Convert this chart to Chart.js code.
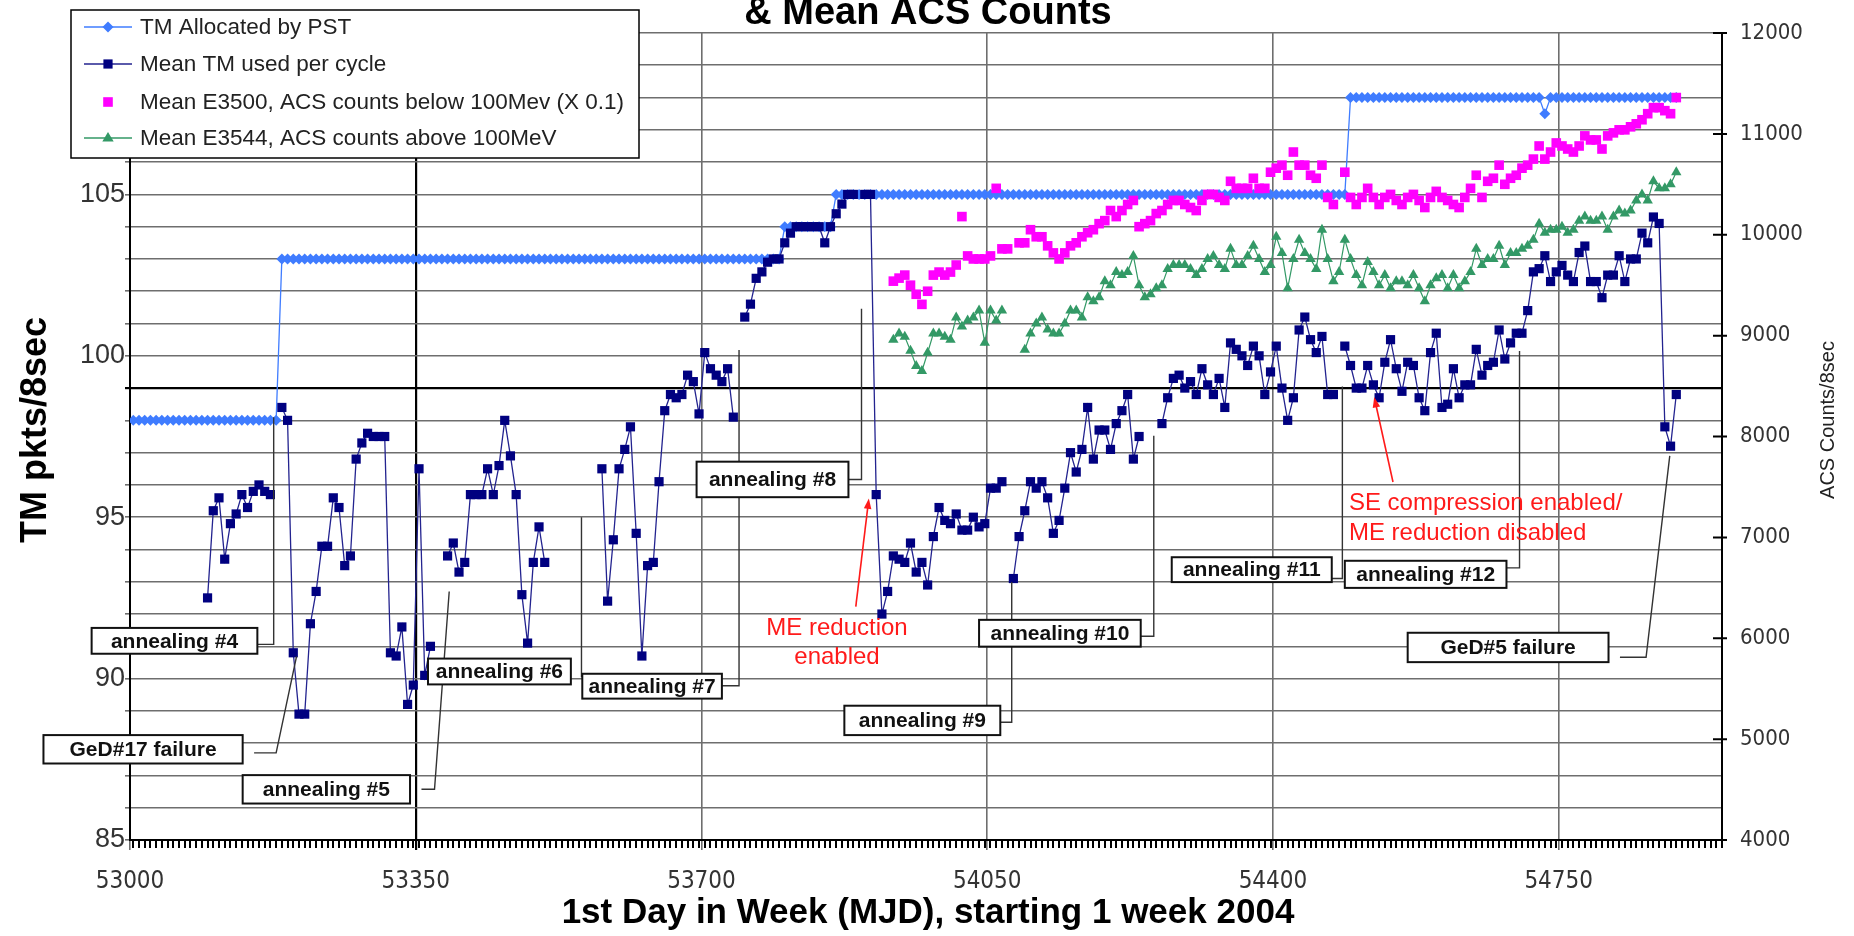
<!DOCTYPE html>
<html>
<head>
<meta charset="utf-8">
<title>TM usage and ACS counts</title>
<script src="https://cdn.jsdelivr.net/npm/chart.js@4.4.1/dist/chart.umd.min.js"></script>
<style>
  html, body { margin: 0; padding: 0; background: #fff; }
  #wrap { width: 1854px; height: 936px; }
</style>
</head>
<body>
<div id="wrap"><canvas id="tmChart" width="1854" height="936"></canvas></div>
<script>
// Weekly categories: first day of each week (MJD)
var weekStart = 53004;
var weekStep = 7;
var weekCount = 271;

var xTickValues = [53000, 53350, 53700, 54050, 54400, 54750];
var xTickLabels = ["53000", "53350", "53700", "54050", "54400", "54750"];
var leftTickLabels = ["85", "90", "95", "100", "105", "110"];
var rightTickLabels = ["4000", "5000", "6000", "7000", "8000", "9000", "10000", "11000", "12000"];

// TM allocated by PST (pkts/8sec), one value per week
var tmAllocated = [
  98, 98, 98, 98, 98, 98, 98, 98, 98, 98,
  98, 98, 98, 98, 98, 98, 98, 98, 98, 98,
  98, 98, 98, 98, 98, 98, 103, 103, 103, 103,
  103, 103, 103, 103, 103, 103, 103, 103, 103, 103,
  103, 103, 103, 103, 103, 103, 103, 103, 103, 103,
  103, 103, 103, 103, 103, 103, 103, 103, 103, 103,
  103, 103, 103, 103, 103, 103, 103, 103, 103, 103,
  103, 103, 103, 103, 103, 103, 103, 103, 103, 103,
  103, 103, 103, 103, 103, 103, 103, 103, 103, 103,
  103, 103, 103, 103, 103, 103, 103, 103, 103, 103,
  103, 103, 103, 103, 103, 103, 103, 103, 103, 103,
  103, 103, 103, 103, 104, 104, 104, 104, 104, 104,
  104, 104, 104, 105, 105, 105, 105, 105, 105, 105,
  105, 105, 105, 105, 105, 105, 105, 105, 105, 105,
  105, 105, 105, 105, 105, 105, 105, 105, 105, 105,
  105, 105, 105, 105, 105, 105, 105, 105, 105, 105,
  105, 105, 105, 105, 105, 105, 105, 105, 105, 105,
  105, 105, 105, 105, 105, 105, 105, 105, 105, 105,
  105, 105, 105, 105, 105, 105, 105, 105, 105, 105,
  105, 105, 105, 105, 105, 105, 105, 105, 105, 105,
  105, 105, 105, 105, 105, 105, 105, 105, 105, 105,
  105, 105, 105, 108, 108, 108, 108, 108, 108, 108,
  108, 108, 108, 108, 108, 108, 108, 108, 108, 108,
  108, 108, 108, 108, 108, 108, 108, 108, 108, 108,
  108, 108, 108, 108, 108, 108, 108, 107.5, 108, 108,
  108, 108, 108, 108, 108, 108, 108, 108, 108, 108,
  108, 108, 108, 108, 108, 108, 108, 108, 108, 108,
  108
];

// Mean TM used per cycle (pkts/8sec), null = no data that week
var tmUsed = [
  null, null, null, null, null, null, null, null, null, null,
  null, null, null, 92.5, 95.2, 95.6, 93.7, 94.8, 95.1, 95.7,
  95.3, 95.8, 96.0, 95.8, 95.7, null, 98.4, 98.0, 90.8, 88.9,
  88.9, 91.7, 92.7, 94.1, 94.1, 95.6, 95.3, 93.5, 93.8, 96.8,
  97.3, 97.6, 97.5, 97.5, 97.5, 90.8, 90.7, 91.6, 89.2, 89.8,
  96.5, 90.1, 91.0, null, null, 93.8, 94.2, 93.3, 93.6, 95.7,
  95.7, 95.7, 96.5, 95.7, 96.6, 98.0, 96.9, 95.7, 92.6, 91.1,
  93.6, 94.7, 93.6, null, null, null, null, null, null, null,
  null, null, 96.5, 92.4, 94.3, 96.5, 97.1, 97.8, 94.5, 90.7,
  93.5, 93.6, 96.1, 98.3, 98.8, 98.7, 98.8, 99.4, 99.2, 98.2,
  100.1, 99.6, 99.4, 99.2, 99.6, 98.1, null, 101.2, 101.6, 102.4,
  102.6, 102.9, 103.0, 103.0, 103.5, 103.8, 104.0, 104.0, 104.0, 104.0,
  104.0, 103.5, 104.0, 104.4, 104.7, 105.0, 105.0, null, 105.0, 105.0,
  95.7, 92.0, 92.7, 93.8, 93.7, 93.6, 94.2, 93.3, 93.6, 92.9,
  94.4, 95.3, 94.9, 94.8, 95.1, 94.6, 94.6, 95.0, 94.7, 94.8,
  95.9, 95.9, 96.1, null, 93.1, 94.4, 95.2, 96.1, 95.9, 96.1,
  95.6, 94.5, 94.9, 95.9, 97.0, 96.4, 97.1, 98.4, 96.8, 97.7,
  97.7, 97.1, 97.9, 98.3, 98.8, 96.8, 97.5, null, null, null,
  97.9, 98.7, 99.3, 99.4, 99.0, 99.2, 98.8, 99.6, 99.1, 98.8,
  99.3, 98.4, 100.4, 100.2, 100.0, 99.7, 100.3, 100.0, 98.8, 99.5,
  100.3, 99.0, 98.0, 98.7, 100.8, 101.2, 100.5, 100.1, 100.6, 98.8,
  98.8, null, 100.3, 99.7, 99.0, 99.0, 99.7, 99.1, 98.7, 99.8,
  100.5, 99.6, 98.9, 99.8, 99.7, 98.7, 98.3, 100.1, 100.7, 98.4,
  98.5, 99.6, 98.7, 99.1, 99.1, 100.2, 99.4, 99.7, 99.8, 100.8,
  99.9, 100.4, 100.7, 100.7, 101.4, 102.6, 102.7, 103.1, 102.3, 102.6,
  102.8, 102.5, 102.3, 103.2, 103.4, 102.3, 102.3, 101.8, 102.5, 102.5,
  103.1, 102.3, 103.0, 103.0, 103.8, 103.5, 104.3, 104.1, 97.8, 97.2,
  98.8
];

// ACS counts start at week index 133
var acsStartIndex = 133;

// Mean E3500, ACS counts below 100 MeV (x 0.1)
var acsBelow = [
  9540, 9570, 9600, 9500, 9410, 9310, 9440,
  9600, 9630, 9600, 9630, 9700, 10180, 9790, 9760, 9760, 9760,
  9790, 10460, 9860, 9860, null, 9920, 9920, 10050, 9980, 9980,
  9890, 9820, 9760, 9820, 9890, 9920, 9980, 10020, 10050, 10110,
  10140, 10240, 10180, 10240, 10300, 10340, 10080, 10110, 10140, 10210,
  10240, 10300, 10340, 10340, 10300, 10270, 10240, 10340, 10400, 10400,
  10370, 10340, 10530, 10460, 10460, 10460, 10560, 10460, 10460, 10620,
  10660, 10690, 10590, 10820, 10690, 10690, 10590, 10560, 10690, 10370,
  10300, null, 10620, 10370, 10300, 10370, 10460, 10370, 10300, 10370,
  10400, 10340, 10300, 10370, 10400, 10340, 10270, 10370, 10430, 10370,
  10340, 10300, 10270, 10370, 10460, 10590, 10370, 10530, 10560, 10690,
  10500, 10560, 10590, 10660, 10690, 10750, 10880, 10750, 10820, 10910,
  10880, 10850, 10820, 10880, 10980, 10940, 10940, 10850, 10980, 11010,
  11040, 11040, 11070, 11100, 11140, 11200, 11260, 11260, 11230, 11200,
  11360
];

// Mean E3544, ACS counts above 100 MeV
var acsAbove = [
  8960, 9020, 8990, 8850, 8700, 8650, 8830,
  9020, 9020, 8990, 8960, 9180, 9090, 9150, 9180, 9250, 8930,
  9250, 9150, 9250, null, null, null, 8860, 9020, 9120, 9180,
  9060, 9020, 9020, 9120, 9250, 9250, 9180, 9380, 9340, 9380,
  9540, 9500, 9630, 9600, 9630, 9790, 9500, 9380, 9410, 9470,
  9500, 9660, 9700, 9700, 9700, 9660, 9600, 9660, 9760, 9790,
  9700, 9660, 9860, 9700, 9700, 9790, 9890, 9760, 9630, 9700,
  9980, 9820, 9470, 9760, 9950, 9820, 9760, 9660, 10050, 9760,
  9540, 9630, 9950, 9760, 9600, 9500, 9730, 9630, 9500, 9600,
  9470, 9540, 9540, 9500, 9600, 9470, 9340, 9500, 9570, 9600,
  9470, 9600, 9470, 9540, 9630, 9860, 9700, 9760, 9760, 9890,
  9700, 9820, 9820, 9860, 9890, 9950, 10110, 10020, 10050, 10050,
  10080, 10020, 10050, 10140, 10180, 10140, 10140, 10180, 10050, 10180,
  10240, 10210, 10240, 10340, 10400, 10340, 10530, 10460, 10460, 10500,
  10620
];

// Annotation boxes, in data coordinates (MJD, TM pkts/8sec)
var noteBoxes = [
  { text: "annealing #4", x1: 52953, x2: 53156, top: 91.57, bottom: 90.77 },
  { text: "GeD#17 failure", x1: 52894, x2: 53138, top: 88.25, bottom: 87.37 },
  { text: "annealing #5", x1: 53138, x2: 53343, top: 87.01, bottom: 86.13 },
  { text: "annealing #6", x1: 53365, x2: 53540, top: 90.62, bottom: 89.82 },
  { text: "annealing #7", x1: 53554, x2: 53725, top: 90.15, bottom: 89.38 },
  { text: "annealing #8", x1: 53694, x2: 53880, top: 96.72, bottom: 95.62 },
  { text: "annealing #9", x1: 53875, x2: 54066, top: 89.16, bottom: 88.25 },
  { text: "annealing #10", x1: 54040, x2: 54238, top: 91.82, bottom: 90.99 },
  { text: "annealing #11", x1: 54276, x2: 54472, top: 93.76, bottom: 92.99 },
  { text: "annealing #12", x1: 54488, x2: 54686, top: 93.65, bottom: 92.81 },
  { text: "GeD#5 failure", x1: 54565, x2: 54811, top: 91.42, bottom: 90.51 }
];

var leaderLines = [
  [[53156, 91.06], [53176, 91.06], [53176, 98.1]],
  [[53152, 87.7], [53179, 87.7], [53204, 90.69]],
  [[53357, 86.57], [53373, 86.57], [53391, 92.7]],
  [[53553, 95.0], [53553, 90.04]],
  [[53725, 89.78], [53746, 89.78], [53746, 100.18]],
  [[53880, 96.17], [53896, 96.17], [53896, 101.46]],
  [[54066, 88.65], [54080, 88.65], [54080, 92.99]],
  [[54238, 91.31], [54254, 91.31], [54254, 97.52]],
  [[54472, 93.1], [54485, 93.1], [54485, 99.05]],
  [[54686, 93.43], [54702, 93.43], [54702, 100.15]],
  [[54825, 90.66], [54857, 90.66], [54886, 96.9]]
];

var redNotes = [
  { lines: ["ME reduction", "enabled"], x: 53866, ys: [91.57, 90.67], align: "center",
    arrowFrom: [53889, 92.23], arrowTo: [53905, 95.58] },
  { lines: ["SE compression enabled/", "ME reduction disabled"], x: 54493, ys: [95.44, 94.49], align: "left",
    arrowFrom: [54547, 96.09], arrowTo: [54524, 98.72] }
];

var weeks = [];
for (var i = 0; i < weekCount; i++) {
  weeks.push(weekStart + weekStep * i);
}

function toPoints(values, offset) {
  return values.map(function (v, i) {
    return { x: weeks[i + offset], y: v };
  });
}

// use a condensed face for the tick numbers when one is installed
function hasFont(name) {
  var c = document.createElement("canvas").getContext("2d");
  c.font = "40px monospace";
  var w1 = c.measureText("53000 abcMW").width;
  c.font = "40px '" + name + "', monospace";
  return c.measureText("53000 abcMW").width !== w1;
}
var FONT = "'Liberation Sans', Arial, sans-serif";
var NARROW = null;
if (hasFont("Liberation Sans Narrow")) NARROW = "'Liberation Sans Narrow'";
else if (hasFont("DejaVu Sans Condensed")) NARROW = "'DejaVu Sans Condensed'";
var tickFamily = NARROW ? NARROW + ", " + FONT : FONT;
var xTickSize = NARROW ? 24 : 21;
var rightTickSize = NARROW ? 22 : 19;

function drawMarker(ctx, style, x, y, r) {
  ctx.beginPath();
  if (style === "rectRot") {
    ctx.moveTo(x, y - r);
    ctx.lineTo(x + r, y);
    ctx.lineTo(x, y + r);
    ctx.lineTo(x - r, y);
  } else if (style === "triangle") {
    ctx.moveTo(x, y - r);
    ctx.lineTo(x + r * 0.95, y + r * 0.6);
    ctx.lineTo(x - r * 0.95, y + r * 0.6);
  } else {
    var s = r * Math.SQRT1_2;
    ctx.rect(x - s, y - s, 2 * s, 2 * s);
  }
  ctx.closePath();
  ctx.fill();
}

function drawArrow(ctx, x1, y1, x2, y2) {
  var ang = Math.atan2(y2 - y1, x2 - x1);
  var head = 11;
  ctx.beginPath();
  ctx.moveTo(x1, y1);
  ctx.lineTo(x2 - Math.cos(ang) * head * 0.8, y2 - Math.sin(ang) * head * 0.8);
  ctx.stroke();
  ctx.beginPath();
  ctx.moveTo(x2, y2);
  ctx.lineTo(x2 - head * Math.cos(ang - 0.35), y2 - head * Math.sin(ang - 0.35));
  ctx.lineTo(x2 - head * Math.cos(ang + 0.35), y2 - head * Math.sin(ang + 0.35));
  ctx.closePath();
  ctx.fill();
}

var decorPlugin = {
  id: "decor",
  afterDatasetsDraw: function (chart) {
    var ctx = chart.ctx;
    var xs = chart.scales.x, ys = chart.scales.y;
    function px(v) { return xs.getPixelForValue(v); }
    function py(v) { return ys.getPixelForValue(v); }
    ctx.save();

    // leader lines from the boxes
    ctx.strokeStyle = "#333";
    ctx.lineWidth = 1.4;
    leaderLines.forEach(function (pts) {
      ctx.beginPath();
      pts.forEach(function (p, i) {
        if (i === 0) ctx.moveTo(px(p[0]), py(p[1]));
        else ctx.lineTo(px(p[0]), py(p[1]));
      });
      ctx.stroke();
    });

    // annealing / failure boxes
    ctx.font = "bold 21px " + FONT;
    ctx.textAlign = "center";
    ctx.textBaseline = "middle";
    noteBoxes.forEach(function (b) {
      var x1 = px(b.x1), x2 = px(b.x2), y1 = py(b.top), y2 = py(b.bottom);
      ctx.fillStyle = "#fff";
      ctx.fillRect(x1, y1, x2 - x1, y2 - y1);
      ctx.strokeStyle = "#111";
      ctx.lineWidth = 2;
      ctx.strokeRect(x1, y1, x2 - x1, y2 - y1);
      ctx.fillStyle = "#111";
      ctx.fillText(b.text, (x1 + x2) / 2, (y1 + y2) / 2 + 1);
    });

    // red notes with arrows
    ctx.font = "24px " + FONT;
    ctx.fillStyle = "#ff1a1a";
    ctx.strokeStyle = "#ff1a1a";
    ctx.lineWidth = 1.6;
    redNotes.forEach(function (n) {
      ctx.textAlign = n.align;
      n.lines.forEach(function (t, i) {
        ctx.fillText(t, px(n.x), py(n.ys[i]));
      });
      drawArrow(ctx, px(n.arrowFrom[0]), py(n.arrowFrom[1]), px(n.arrowTo[0]), py(n.arrowTo[1]));
    });
    ctx.restore();
  },
  afterDraw: function (chart) {
    var ctx = chart.ctx;
    var xs = chart.scales.x, y2s = chart.scales.y2;
    var area = chart.chartArea;
    ctx.save();

    // weekly tick marks along the MJD axis
    ctx.strokeStyle = "#000";
    ctx.lineWidth = 2;
    ctx.beginPath();
    for (var t = weekStart; t <= xs.max; t += weekStep) {
      var X = Math.round(xs.getPixelForValue(t));
      ctx.moveTo(X, area.bottom);
      ctx.lineTo(X, area.bottom + 8);
    }
    ctx.stroke();

    // right axis tick marks
    ctx.lineWidth = 2;
    ctx.beginPath();
    y2s.ticks.forEach(function (tk) {
      var Y = y2s.getPixelForValue(tk.value);
      ctx.moveTo(area.right - 9, Y);
      ctx.lineTo(area.right + 5, Y);
    });
    ctx.stroke();

    // legend box
    var lx1 = 71, ly1 = 10, lx2 = 639, ly2 = 158;
    ctx.fillStyle = "#fff";
    ctx.fillRect(lx1, ly1, lx2 - lx1, ly2 - ly1);
    ctx.strokeStyle = "#000";
    ctx.lineWidth = 1.5;
    ctx.strokeRect(lx1, ly1, lx2 - lx1, ly2 - ly1);
    var rowY = [27, 64, 102, 138];
    ctx.font = "22.5px " + FONT;
    ctx.textAlign = "left";
    ctx.textBaseline = "middle";
    chart.data.datasets.forEach(function (ds, i) {
      var y = rowY[i];
      if (ds.showLine !== false) {
        ctx.strokeStyle = ds.borderColor;
        ctx.lineWidth = 1.6;
        ctx.beginPath();
        ctx.moveTo(84, y);
        ctx.lineTo(132, y);
        ctx.stroke();
      }
      ctx.fillStyle = ds.pointBackgroundColor;
      drawMarker(ctx, ds.pointStyle, 108, y, ds.pointRadius);
      ctx.fillStyle = "#222";
      ctx.fillText(ds.label, 140, y + 1);
    });

    // titles
    ctx.fillStyle = "#000";
    ctx.textAlign = "center";
    ctx.textBaseline = "alphabetic";
    ctx.font = "bold 38px " + FONT;
    ctx.fillText("& Mean ACS Counts", 928, 24);
    ctx.font = "bold 35px " + FONT;
    ctx.fillText("1st Day in Week (MJD), starting 1 week 2004", 928, 923);

    ctx.save();
    ctx.translate(36, 430);
    ctx.rotate(-Math.PI / 2);
    ctx.textBaseline = "middle";
    ctx.font = "bold 36px " + FONT;
    ctx.fillText("TM pkts/8sec", 0, 0);
    ctx.restore();

    ctx.save();
    ctx.translate(1828, 420);
    ctx.rotate(-Math.PI / 2);
    ctx.textBaseline = "middle";
    ctx.fillStyle = "#222";
    ctx.font = "20px " + FONT;
    ctx.fillText("ACS Counts/8sec", 0, 0);
    ctx.restore();

    ctx.restore();
  }
};

Chart.defaults.font.family = FONT;
Chart.defaults.color = "#333";

var gridGray = "#6e6e6e";

var ctx = document.getElementById("tmChart").getContext("2d");
var tmChart = new Chart(ctx, {
  type: "line",
  data: {
    datasets: [
      {
        label: "TM Allocated by PST",
        data: toPoints(tmAllocated, 0),
        yAxisID: "y",
        borderColor: "#3f7cff",
        borderWidth: 1.3,
        pointStyle: "rectRot",
        pointRadius: 5.5,
        pointBackgroundColor: "#3f7cff",
        pointBorderColor: "#3f7cff",
        pointBorderWidth: 0,
        spanGaps: false,
        order: 4
      },
      {
        label: "Mean TM used per cycle",
        data: toPoints(tmUsed, 0),
        yAxisID: "y",
        borderColor: "#23238f",
        borderWidth: 1.3,
        pointStyle: "rect",
        pointRadius: 6.5,
        pointBackgroundColor: "#000080",
        pointBorderColor: "#000080",
        pointBorderWidth: 0,
        spanGaps: false,
        order: 3
      },
      {
        label: "Mean E3500, ACS counts below 100Mev (X 0.1)",
        data: toPoints(acsBelow, acsStartIndex),
        yAxisID: "y2",
        showLine: false,
        borderColor: "#ff00ff",
        pointStyle: "rect",
        pointRadius: 6.8,
        pointBackgroundColor: "#ff00ff",
        pointBorderColor: "#ff00ff",
        pointBorderWidth: 0,
        order: 2
      },
      {
        label: "Mean E3544, ACS counts above 100MeV",
        data: toPoints(acsAbove, acsStartIndex),
        yAxisID: "y2",
        borderColor: "#339966",
        borderWidth: 1.2,
        pointStyle: "triangle",
        pointRadius: 6,
        pointBackgroundColor: "#339966",
        pointBorderColor: "#339966",
        pointBorderWidth: 0,
        spanGaps: false,
        order: 1
      }
    ]
  },
  options: {
    responsive: false,
    animation: false,
    events: [],
    layout: { padding: { top: 33, right: 0, bottom: 0, left: 0 } },
    plugins: {
      legend: { display: false },
      tooltip: { enabled: false },
      title: { display: false }
    },
    scales: {
      x: {
        type: "linear",
        position: "bottom",
        min: 53000,
        max: 54950,
        afterBuildTicks: function (axis) {
          axis.ticks = xTickValues.map(function (v) { return { value: v }; });
        },
        afterFit: function (axis) { axis.height = 96; },
        ticks: {
          autoSkip: false,
          maxRotation: 0,
          padding: 17,
          color: "#333",
          font: { size: xTickSize, family: tickFamily },
          callback: function (v, i) { return xTickLabels[i]; }
        },
        grid: {
          color: function (c) { return c.tick && c.tick.value === 53350 ? "#000" : gridGray; },
          lineWidth: function (c) { return c.tick && c.tick.value === 53350 ? 2.2 : 1.6; },
          tickLength: 10
        },
        border: { color: "#000", width: 2 }
      },
      y: {
        position: "left",
        min: 85,
        max: 110,
        afterFit: function (axis) { axis.width = 130; },
        ticks: {
          stepSize: 1,
          autoSkip: false,
          padding: 0,
          color: "#333",
          font: { size: 27 },
          callback: function (v) {
            return leftTickLabels.indexOf(String(v)) >= 0 ? String(v) : "";
          }
        },
        grid: {
          color: function (c) { return c.tick && c.tick.value === 99 ? "#000" : gridGray; },
          lineWidth: function (c) { return c.tick && c.tick.value === 99 ? 2.2 : 1.6; },
          tickLength: 5
        },
        border: { color: "#000", width: 2 }
      },
      y2: {
        position: "right",
        min: 4000,
        max: 12000,
        afterFit: function (axis) { axis.width = 132; },
        ticks: {
          stepSize: 1000,
          padding: 18,
          color: "#333",
          font: { size: rightTickSize, family: tickFamily },
          callback: function (v, i) { return rightTickLabels[i]; }
        },
        grid: { drawOnChartArea: false, drawTicks: false },
        border: { color: "#000", width: 2 }
      }
    }
  },
  plugins: [decorPlugin]
});
</script>
</body>
</html>
